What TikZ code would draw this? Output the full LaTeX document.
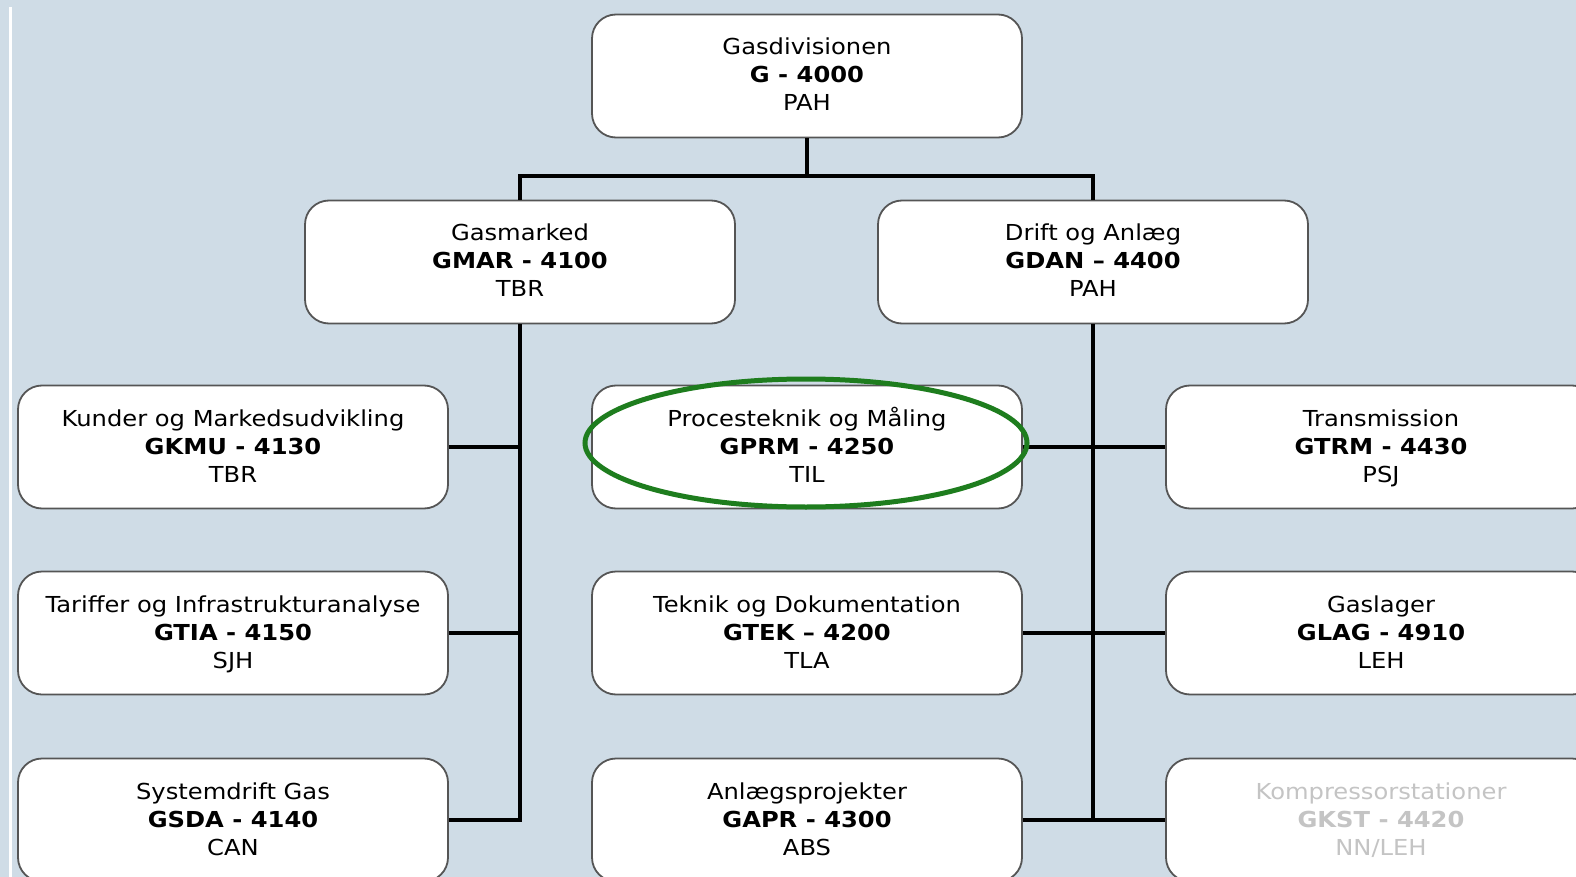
\documentclass[tikz,border=0pt]{standalone}
\usepackage{fontspec}
\setmainfont[FakeStretch=1.1]{DejaVu Sans}
\definecolor{bg}{HTML}{CFDCE6}
\definecolor{boxline}{HTML}{555555}
\definecolor{ring}{HTML}{1E7D1E}
\definecolor{faded}{HTML}{C4C4C4}
\tikzset{
  unit/.style={draw=boxline, line width=1.8pt, fill=white, rounded corners=24pt,
    minimum width=430pt, minimum height=123pt, align=center, inner sep=0pt,
    text height=77pt, text depth=7pt,
    font=\fontsize{22}{28}\selectfont},
  conn/.style={line width=4.8pt, black},
}
\newcommand{\unittext}[3]{#1\\\textbf{#2}\\#3}
\begin{document}
\begin{tikzpicture}[x=1pt,y=-1pt]
\useasboundingbox (0,0) rectangle (1576,877);
\clip (0,0) rectangle (1576,877);
\fill[bg] (0,0) rectangle (1576,877);
\fill[white] (9,7) rectangle (12,877);

\node[unit] (top)   at (807,76)  {\unittext{Gasdivisionen}{G - 4000}{PAH}};
\node[unit] (gasm)  at (520,262) {\unittext{Gasmarked}{GMAR - 4100}{TBR}};
\node[unit] (drift) at (1093,262) {\unittext{Drift og Anlæg}{GDAN – 4400}{PAH}};

\node[unit] (kmu)  at (233,447) {\unittext{Kunder og Markedsudvikling}{GKMU - 4130}{TBR}};
\node[unit] (tia)  at (233,633) {\unittext{Tariffer og Infrastrukturanalyse}{GTIA - 4150}{SJH}};
\node[unit] (sda)  at (233,820) {\unittext{Systemdrift Gas}{GSDA - 4140}{CAN}};

\node[unit] (prm)  at (807,447) {\unittext{Procesteknik og Måling}{GPRM - 4250}{TIL}};
\node[unit] (tek)  at (807,633) {\unittext{Teknik og Dokumentation}{GTEK – 4200}{TLA}};
\node[unit] (apr)  at (807,820) {\unittext{Anlægsprojekter}{GAPR - 4300}{ABS}};

\node[unit] (trm)  at (1381,447) {\unittext{Transmission}{GTRM - 4430}{PSJ}};
\node[unit] (lag)  at (1381,633) {\unittext{Gaslager}{GLAG - 4910}{LEH}};
\node[unit, text=faded] (kst)  at (1381,820) {\unittext{Kompressorstationer}{GKST - 4420}{NN/LEH}};

\coordinate (bar) at (807,176);
\draw[conn] (top.south) -- (bar);
\draw[conn] (gasm.north) -- (gasm.north |- bar) -- (drift.north |- bar) -- (drift.north);

\draw[conn] (gasm.south) |- (sda.east);
\draw[conn] (kmu.east) -- (kmu.east -| gasm.south);
\draw[conn] (tia.east) -- (tia.east -| gasm.south);

\draw[conn] (drift.south) |- (apr.east);
\draw[conn] (prm.east) -- (trm.west);
\draw[conn] (tek.east) -- (lag.west);
\draw[conn] (apr.east) -- (kst.west);

\coordinate (ringc) at (806,443);
\draw[ring, line width=5pt] (ringc) ellipse [x radius=221, y radius=64];
\end{tikzpicture}
\end{document}
